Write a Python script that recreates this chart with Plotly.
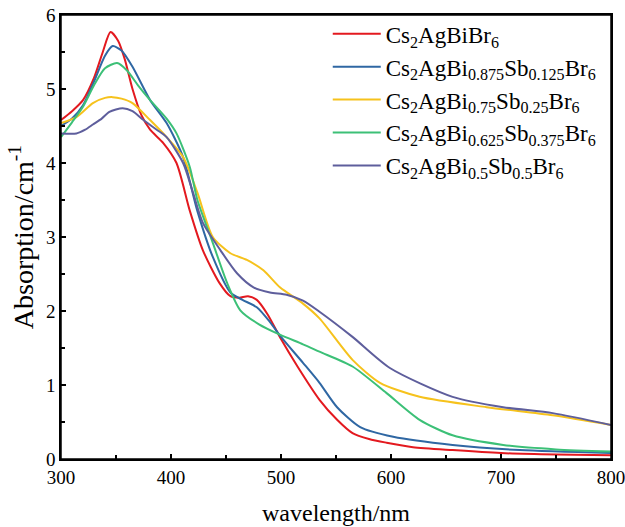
import plotly.graph_objects as go

names = ["Cs<sub>2</sub>AgBiBr<sub>6</sub>",
         "Cs<sub>2</sub>AgBi<sub>0.875</sub>Sb<sub>0.125</sub>Br<sub>6</sub>",
         "Cs<sub>2</sub>AgBi<sub>0.75</sub>Sb<sub>0.25</sub>Br<sub>6</sub>",
         "Cs<sub>2</sub>AgBi<sub>0.625</sub>Sb<sub>0.375</sub>Br<sub>6</sub>",
         "Cs<sub>2</sub>AgBi<sub>0.5</sub>Sb<sub>0.5</sub>Br<sub>6</sub>"]
colors = ["#e3191f", "#2f67a3", "#f6c21c", "#3cc077", "#5e5e9c"]

red_x = [300,310,320,330,338,345,352,358,365,373,381,393,405,417,429,444,454,462,470,478,488,500,515,535,551,565,580,596,620,656,700,750,800]
red_y = [4.58,4.7,4.85,5.15,5.5,5.77,5.65,5.4,5.0,4.65,4.45,4.27,4.0,3.36,2.82,2.38,2.2,2.18,2.2,2.15,1.95,1.62,1.25,0.8,0.53,0.35,0.27,0.22,0.16,0.12,0.08,0.06,0.05]

blue_x = [300,310,320,330,340,347,355,365,381,396,411,424,438,454,465,478,490,500,520,535,551,572,602,656,717,800]
blue_y = [4.5,4.6,4.78,5.1,5.45,5.58,5.52,5.3,4.85,4.54,4.08,3.35,2.73,2.25,2.15,2.05,1.85,1.65,1.3,1.03,0.7,0.43,0.3,0.19,0.12,0.08]

yellow_x = [300,314,329,340,347,355,365,381,396,411,424,438,454,469,484,499,520,535,565,590,626,687,747,800]
yellow_y = [4.54,4.62,4.81,4.88,4.89,4.87,4.81,4.58,4.35,4.08,3.6,3.0,2.78,2.69,2.55,2.32,2.1,1.9,1.34,1.03,0.84,0.70,0.59,0.46]

green_x = [300,310,320,330,340,351,360,370,381,396,405,417,424,438,451,463,480,499,520,535,565,596,626,656,702,750,800]
green_y = [4.35,4.55,4.76,5.05,5.28,5.35,5.25,5.05,4.85,4.6,4.4,3.95,3.5,2.92,2.38,2.01,1.82,1.68,1.55,1.45,1.25,0.89,0.53,0.32,0.19,0.13,0.10]

purple_x = [300,314,322,329,337,344,356,365,375,387,396,411,420,429,445,460,475,490,505,520,535,565,599,656,702,747,800]
purple_y = [4.4,4.4,4.45,4.52,4.6,4.69,4.74,4.7,4.58,4.45,4.35,4.0,3.6,3.19,2.82,2.51,2.32,2.25,2.22,2.14,1.99,1.65,1.23,0.84,0.70,0.62,0.46]

series = [(red_x, red_y), (blue_x, blue_y), (yellow_x, yellow_y), (green_x, green_y), (purple_x, purple_y)]

font_family = "Liberation Serif"

fig = go.Figure()
for i, ((xs, ys), name, c) in enumerate(zip(series, names, colors)):
    fig.add_trace(go.Scatter(x=xs, y=ys, mode="lines", name=name, legendgroup=f"g{i}",
                             line=dict(color=c, width=2, shape="spline", smoothing=0.7)))

axis_common = dict(showline=True, linecolor="black", linewidth=1.5, mirror=True,
                   ticks="inside", ticklen=5, tickwidth=1.5, tickcolor="black",
                   showgrid=False, zeroline=False, automargin=False,
                   ticklabeloverflow="allow",
                   tickfont=dict(family=font_family, size=19, color="black"))

fig.update_xaxes(range=[300, 800], dtick=100, tick0=300,
                 minor=dict(ticks="inside", ticklen=4, tickwidth=1.5, tickcolor="black", dtick=50),
                 title=dict(text="wavelength/nm", font=dict(family=font_family, size=24, color="black"), standoff=18),
                 **axis_common)
fig.update_yaxes(range=[0, 6], dtick=1,
                 minor=dict(ticks="inside", ticklen=4, tickwidth=1.5, tickcolor="black", dtick=0.5),
                 title=dict(text="Absorption/cm<sup>-1</sup>", font=dict(family=font_family, size=28, color="black"), standoff=4),
                 **axis_common)

fig.add_shape(type="rect", xref="paper", yref="paper", x0=0, y0=0, x1=1, y1=1,
              line=dict(color="black", width=1.5), layer="above")

fig.update_layout(width=625, height=527,
                  margin=dict(l=61, r=14, t=15, b=68),
                  plot_bgcolor="white", paper_bgcolor="white",
                  font=dict(family=font_family, color="black"),
                  legend=dict(x=0.485, y=1.006, xanchor="left", yanchor="top",
                              bgcolor="rgba(0,0,0,0)", borderwidth=0,
                              traceorder="grouped", tracegroupgap=0, itemwidth=48,
                              font=dict(family=font_family, size=23, color="black")))

fig.write_html("out.html", config={"displayModeBar": False},
               post_script="document.body.style.margin='0';document.body.style.overflow='hidden';")
